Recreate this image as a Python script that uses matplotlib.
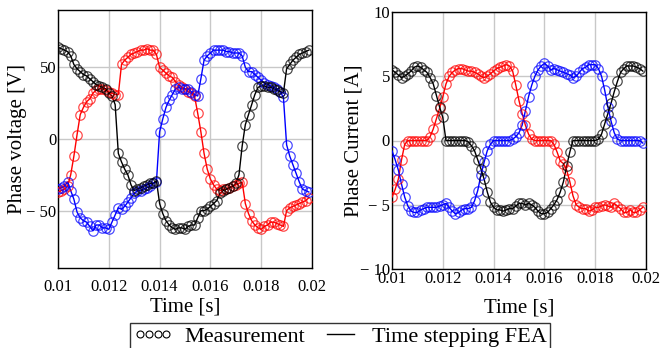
import numpy as np
import matplotlib
matplotlib.use('Agg')
import matplotlib.pyplot as plt
from matplotlib.lines import Line2D
from matplotlib.ticker import FuncFormatter

plt.rcParams['font.family'] = ['Liberation Serif', 'DejaVu Serif']

# time base: 80 samples, 0.125 ms apart
t = np.linspace(0.01, 0.019875, 80)

# phase voltages [V]
v_red = [-37, -36, -35, -33, -25, -12, 3, 17, 22, 26,
         28, 32, 34, 35, 35, 34, 33, 32, 31, 31,
         52, 55, 57, 59, 60, 61, 62, 62, 63, 62,
         62, 59, 50, 48, 46, 44, 43, 40, 38, 36,
         35, 33, 32, 30, 18, 5, -10, -21, -28, -32,
         -35, -36, -35, -35, -34, -33, -32, -31, -30, -45,
         -52, -57, -60, -62, -63, -61, -60, -58, -58, -59,
         -60, -61, -50, -48, -47, -46, -45, -44, -43, -41]
v_black = [64, 63, 62, 61, 58, 52, 49, 47, 45, 44,
           42, 40, 38, 37, 36, 35, 32, 30, 24, -10,
           -16, -21, -25, -32, -36, -35, -34, -33, -32, -31,
           -31, -29, -45, -52, -57, -60, -62, -63, -62, -62,
           -63, -61, -60, -60, -55, -50, -50, -49, -47, -45,
           -43, -38, -36, -35, -34, -33, -31, -25, -5, 10,
           17, 24, 31, 36, 37, 37, 36, 36, 35, 34,
           33, 32, 49, 52, 55, 57, 59, 60, 61, 62]
v_blue = [-35, -34, -33, -30, -36, -42, -51, -55, -57, -58,
          -61, -64, -60, -60, -62, -62, -63, -58, -53, -48,
          -49, -47, -44, -41, -38, -36, -36, -35, -34, -33,
          -31, -30, 5, 14, 22, 27, 31, 35, 36, 35,
          35, 35, 33, 31, 30, 42, 55, 58, 60, 62,
          62, 62, 62, 61, 61, 60, 60, 60, 58, 50,
          47, 47, 45, 43, 41, 39, 38, 37, 36, 35,
          33, 29, -4, -12, -18, -24, -30, -35, -36, -37]

# phase currents [A]
i_red = [-4.4, -3.8, -3.0, -1.5, -0.3, 0, 0, 0, 0, 0,
         0, 0, 0.3, 0.9, 1.7, 2.5, 3.4, 4.4, 5.0, 5.3,
         5.5, 5.6, 5.6, 5.5, 5.4, 5.4, 5.3, 5.2, 5.0, 4.9,
         5.0, 5.2, 5.4, 5.6, 5.7, 5.8, 5.9, 5.8, 5.4, 4.3,
         3.1, 2.1, 1.2, 0.5, 0.1, 0, 0, 0, 0, 0,
         0, -0.3, -0.9, -1.6, -1.8, -2.3, -3.2, -4.3, -5.0, -5.2,
         -5.3, -5.3, -5.5, -5.4, -5.2, -5.2, -5.1, -5.0, -5.1, -5.2,
         -4.9, -5.1, -5.3, -5.6, -5.6, -5.4, -5.6, -5.6, -5.4, -5.2]
i_black = [5.5, 5.3, 5.1, 4.9, 5.0, 5.2, 5.4, 5.7, 5.8, 5.7,
           5.5, 5.3, 4.9, 4.4, 3.5, 2.6, 1.8, 0, 0, 0,
           0, 0, 0, 0, -0.1, -0.4, -0.8, -1.5, -2.2, -3.0,
           -4.0, -4.8, -5.2, -5.4, -5.4, -5.5, -5.4, -5.3, -5.3, -5.1,
           -4.9, -4.9, -5.0, -4.9, -5.0, -5.2, -5.5, -5.7, -5.7, -5.6,
           -5.3, -5.0, -4.6, -4.0, -3.2, -2.0, -0.9, 0, 0, 0,
           0, 0, 0, 0, 0, 0.1, 0.5, 1.3, 2.1, 2.9,
           3.8, 4.6, 5.3, 5.6, 5.8, 5.8, 5.8, 5.7, 5.6, 5.4]
i_blue = [-0.8, -1.5, -2.3, -3.4, -4.4, -5.1, -5.5, -5.6, -5.6, -5.4,
          -5.3, -5.2, -5.2, -5.2, -5.2, -5.1, -5.0, -4.9, -5.2, -5.5,
          -5.7, -5.6, -5.4, -5.3, -5.3, -5.2, -4.7, -3.9, -2.7, -1.7,
          -0.8, -0.3, 0, 0, 0, 0, 0, 0, 0.1, 0.3,
          0.6, 1.2, 2.3, 3.4, 4.3, 5.0, 5.5, 5.8, 6.0, 5.8,
          5.5, 5.6, 5.5, 5.4, 5.3, 5.2, 5.1, 4.9, 5.0, 5.3,
          5.6, 5.7, 5.9, 5.9, 5.9, 5.6, 5.0, 3.9, 2.6, 1.5,
          0.6, 0.1, 0, 0, 0, 0, 0, 0, 0, -0.2]

x_ticks = [0.01, 0.012, 0.014, 0.016, 0.018, 0.02]
x_ticklabels = ['0.01', '0.012', '0.014', '0.016', '0.018', '0.02']


def minus_fmt(v, pos):
    if v < 0:
        return '\u2212 %g' % abs(v)
    return '%g' % v


def draw_phases(ax, series):
    for y, c in series:
        ax.plot(t, y, '-', color=c, lw=1.0, zorder=3)
        ax.plot(t, y, 'o', mfc='none', mec=c, ms=6.8, mew=0.9, alpha=0.7, zorder=4)
    ax.set_xlim(0.01, 0.02)
    ax.set_xticks(x_ticks)
    ax.set_xticklabels(x_ticklabels)
    ax.grid(True, color='#c8c8c8', lw=1.0, zorder=0)
    ax.set_axisbelow(True)
    for s in ax.spines.values():
        s.set_linewidth(1.0)
    ax.yaxis.set_major_formatter(FuncFormatter(minus_fmt))


fig = plt.figure(figsize=(6.65, 3.48), dpi=100)
ax1 = fig.add_axes([58 / 665, 80 / 348, 254 / 665, 258 / 348])
ax2 = fig.add_axes([392 / 665, 79 / 348, 254 / 665, 257 / 348])

draw_phases(ax1, [(v_red, 'red'), (v_blue, 'blue'), (v_black, 'black')])
ax1.set_ylim(-90, 90)
ax1.set_yticks([-50, 0, 50])
ax1.tick_params(axis='both', length=0, labelsize=12)
ax1.tick_params(axis='y', pad=1)
ax1.tick_params(axis='x', pad=8)
ax1.set_ylabel('Phase voltage [V]', fontsize=15)
ax1.set_xlabel('Time [s]', fontsize=15)
ax1.yaxis.set_label_coords(-0.122, 0.5)
ax1.xaxis.set_label_coords(0.5, -0.115)

draw_phases(ax2, [(i_red, 'red'), (i_blue, 'blue'), (i_black, 'black')])
ax2.set_ylim(-10, 10)
ax2.set_yticks([-10, -5, 0, 5, 10])
ax2.tick_params(axis='both', length=0, labelsize=12)
ax2.tick_params(axis='y', pad=1.5)
ax2.tick_params(axis='x', pad=1.5)
ax2.set_ylabel('Phase Current [A]', fontsize=15)
ax2.set_xlabel('Time [s]', fontsize=15)
ax2.yaxis.set_label_coords(-0.114, 0.5)
ax2.xaxis.set_label_coords(0.5, -0.113)

handles = [Line2D([], [], ls='none', marker='o', mfc='none', mec='black', ms=5, mew=0.8),
           Line2D([], [], color='black', lw=1.0)]
leg = fig.legend(handles, ['Measurement', 'Time stepping FEA'], loc='upper center',
                 bbox_to_anchor=(0.511, 0.072), ncol=2, fontsize=16, numpoints=4,
                 handlelength=1.8, handletextpad=0.5, columnspacing=0.7,
                 fancybox=False, edgecolor='black', borderpad=0.15,
                 borderaxespad=0)
leg.get_frame().set_linewidth(1.0)

fig.savefig('out.png', dpi=100)
